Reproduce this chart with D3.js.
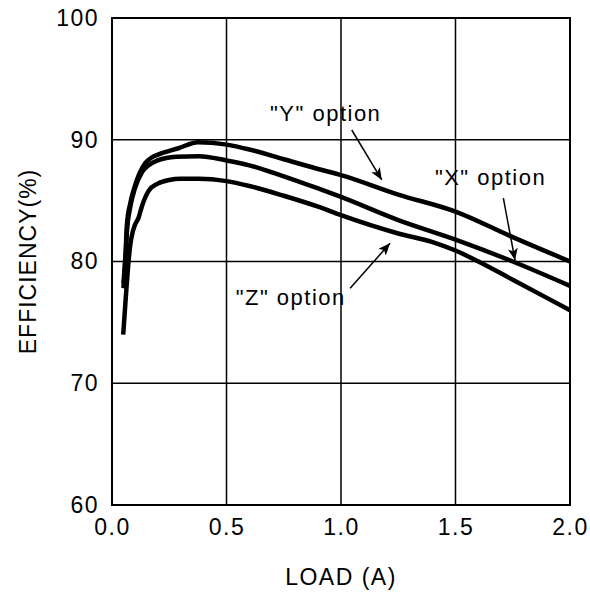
<!DOCTYPE html>
<html>
<head>
<meta charset="utf-8">
<script src="https://cdn.jsdelivr.net/npm/d3@7"></script>
<style>
  body { margin: 0; background: #fff; }
  text { font-family: "Liberation Sans", Arial, sans-serif; fill: #000; }
</style>
</head>
<body>
<div id="chart"></div>
<script>
// efficiency curves: [load (A), efficiency (%)]
var yOption = [[0.05,78.2],[0.06,81.0],[0.065,83.0],[0.08,84.8],[0.1,86.2],[0.146,88.1],[0.17,88.5],[0.204,88.8],[0.29,89.3],[0.376,89.8],[0.5,89.6],[0.6,89.2],[0.75,88.4],[0.9,87.6],[1.0,87.1],[1.25,85.5],[1.5,84.1],[1.75,82.0],[2.0,80.0]];
var xOption = [[0.05,77.8],[0.06,80.5],[0.065,82.4],[0.08,84.5],[0.1,86.0],[0.13,87.3],[0.16,87.9],[0.2,88.3],[0.28,88.6],[0.38,88.65],[0.5,88.3],[0.6,87.9],[0.75,87.0],[0.9,86.0],[1.0,85.3],[1.25,83.4],[1.5,81.8],[1.75,80.0],[2.0,78.0]];
var zOption = [[0.049,74.0],[0.06,77.0],[0.07,79.5],[0.08,81.4],[0.09,82.4],[0.1,83.0],[0.116,83.6],[0.13,84.5],[0.16,85.8],[0.2,86.4],[0.25,86.7],[0.3,86.8],[0.38,86.8],[0.5,86.6],[0.6,86.2],[0.75,85.4],[0.9,84.5],[1.0,83.8],[1.25,82.3],[1.4,81.6],[1.5,80.9],[1.6,80.0],[1.75,78.5],[2.0,76.0]];

var xTicks = [0, 0.5, 1.0, 1.5, 2.0];
var yTicks = [60, 70, 80, 90, 100];

// callouts: label text, label anchor and arrow (tail -> tip) in data units
var callouts = [
  { text: '"Y" option', at: [0.69, 91.5], from: [1.047, 90.8], to: [1.178, 86.7] },
  { text: '"X" option', at: [1.41, 86.3], from: [1.709, 85.2], to: [1.76, 80.1] },
  { text: '"Z" option', at: [0.54, 76.4], from: [1.04, 77.8], to: [1.214, 81.5] }
];

var width = 590, height = 592;
var margin = { top: 18, right: 20, bottom: 87, left: 112 };

var svg = d3.select('#chart').append('svg')
    .attr('width', width)
    .attr('height', height);

var x = d3.scaleLinear().domain([0, 2]).range([margin.left, width - margin.right]);
var y = d3.scaleLinear().domain([60, 100]).range([height - margin.bottom, margin.top]);

// grid
svg.append('g').selectAll('line').data(xTicks.slice(1, -1)).enter().append('line')
    .attr('x1', function (d) { return x(d); }).attr('x2', function (d) { return x(d); })
    .attr('y1', y(60)).attr('y2', y(100))
    .style('stroke', '#000').style('stroke-width', 1.5);
svg.append('g').selectAll('line').data(yTicks.slice(1, -1)).enter().append('line')
    .attr('x1', x(0)).attr('x2', x(2))
    .attr('y1', function (d) { return y(d); }).attr('y2', function (d) { return y(d); })
    .style('stroke', '#000').style('stroke-width', 1.5);

// frame
svg.append('rect')
    .attr('x', x(0)).attr('y', y(100))
    .attr('width', x(2) - x(0)).attr('height', y(60) - y(100))
    .style('fill', 'none').style('stroke', '#000').style('stroke-width', 2);

// axes labels (tick lines hidden, labels only)
var xAxis = svg.append('g')
    .attr('transform', 'translate(0,' + y(60) + ')')
    .call(d3.axisBottom(x).tickValues(xTicks).tickFormat(d3.format('.1f')).tickSize(0).tickPadding(14));
var yAxis = svg.append('g')
    .attr('transform', 'translate(' + x(0) + ',0)')
    .call(d3.axisLeft(y).tickValues(yTicks).tickFormat(d3.format('d')).tickSize(0).tickPadding(13));
[xAxis, yAxis].forEach(function (a) {
  a.select('.domain').remove();
  a.selectAll('text')
      .style('font-family', '"Liberation Sans", Arial, sans-serif')
      .style('font-size', '23px')
      .style('letter-spacing', '1.5px')
      .attr('fill', '#000');
});

svg.append('text')
    .attr('x', (x(0) + x(2)) / 2).attr('y', 585)
    .attr('text-anchor', 'middle')
    .style('font-size', '23px').style('letter-spacing', '1.5px')
    .text('LOAD (A)');

svg.append('text')
    .attr('transform', 'translate(36,' + ((y(60) + y(100)) / 2) + ') rotate(-90)')
    .attr('text-anchor', 'middle')
    .style('font-size', '23px').style('letter-spacing', '1px')
    .text('EFFICIENCY(%)');

// curves
var line = d3.line()
    .x(function (d) { return x(d[0]); })
    .y(function (d) { return y(d[1]); })
    .curve(d3.curveMonotoneX);

svg.append('g').selectAll('path').data([yOption, xOption, zOption]).enter().append('path')
    .attr('d', line)
    .style('fill', 'none')
    .style('stroke', '#000')
    .style('stroke-width', 4.5)
    .style('stroke-linejoin', 'round');

// arrows
svg.append('defs').append('marker')
    .attr('id', 'head')
    .attr('viewBox', '0 0 12 10')
    .attr('refX', 12).attr('refY', 5)
    .attr('markerWidth', 12).attr('markerHeight', 10)
    .attr('markerUnits', 'userSpaceOnUse')
    .attr('orient', 'auto')
  .append('path')
    .attr('d', 'M0,0 L12,5 L0,10 L3,5 Z')
    .style('fill', '#000');

var notes = svg.append('g');
notes.selectAll('line').data(callouts).enter().append('line')
    .attr('x1', function (d) { return x(d.from[0]); })
    .attr('y1', function (d) { return y(d.from[1]); })
    .attr('x2', function (d) { return x(d.to[0]); })
    .attr('y2', function (d) { return y(d.to[1]); })
    .style('stroke', '#000').style('stroke-width', 1.5)
    .attr('marker-end', 'url(#head)');
notes.selectAll('text').data(callouts).enter().append('text')
    .attr('x', function (d) { return x(d.at[0]); })
    .attr('y', function (d) { return y(d.at[1]); })
    .style('font-size', '22px').style('letter-spacing', '1.5px')
    .text(function (d) { return d.text; });
</script>
</body>
</html>
